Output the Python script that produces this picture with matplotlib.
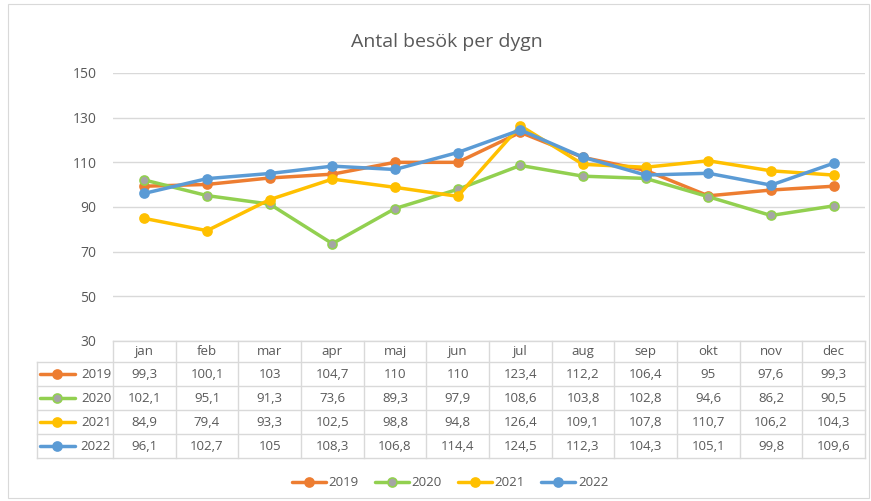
import matplotlib.pyplot as plt
from matplotlib.lines import Line2D
from matplotlib.patches import Rectangle
import numpy as np

plt.rcParams['font.family'] = ['Open Sans', 'DejaVu Sans']

months = ['jan', 'feb', 'mar', 'apr', 'maj', 'jun', 'jul', 'aug', 'sep', 'okt', 'nov', 'dec']
years = ['2019', '2020', '2021', '2022']
v2019 = [99.3, 100.1, 103, 104.7, 110, 110, 123.4, 112.2, 106.4, 95, 97.6, 99.3]
v2020 = [102.1, 95.1, 91.3, 73.6, 89.3, 97.9, 108.6, 103.8, 102.8, 94.6, 86.2, 90.5]
v2021 = [84.9, 79.4, 93.3, 102.5, 98.8, 94.8, 126.4, 109.1, 107.8, 110.7, 106.2, 104.3]
v2022 = [96.1, 102.7, 105, 108.3, 106.8, 114.4, 124.5, 112.3, 104.3, 105.1, 99.8, 109.6]
series = [v2019, v2020, v2021, v2022]

line_cols = ['#ED7D31', '#92D050', '#FFC000', '#5B9BD5']
mark_cols = ['#ED7D31', '#A5A5A5', '#FFC000', '#5B9BD5']
txt = '#595959'
grid = '#D9D9D9'

W, H = 871, 501
fig = plt.figure(figsize=(W / 100, H / 100), dpi=100)
fig.patches.append(Rectangle((8 / W, 3 / H), 861 / W, 494 / H, transform=fig.transFigure,
                             fill=False, edgecolor=grid, lw=0.8))

top_px, bot_px, left_px, right_px = 73, 341, 113, 865
ax = fig.add_axes([left_px / W, 1 - bot_px / H, (right_px - left_px) / W, (bot_px - top_px) / H])
ax_h = bot_px - top_px

x = np.arange(12) + 0.5
for vals, lc, mc, yr in zip(series, line_cols, mark_cols, years):
    ax.plot(x, vals, color=lc, lw=2.5, marker='o', ms=6.5, mfc=mc, mec=lc, mew=1.2, label=yr,
            solid_capstyle='round', zorder=3)

ax.set_xlim(0, 12)
ax.set_ylim(30, 150)
ax.set_yticks(range(30, 151, 20))
ax.yaxis.grid(True, color=grid, lw=1)
ax.set_axisbelow(True)
ax.set_xticks([])
ax.tick_params(axis='y', length=0, pad=12, labelsize=10, labelcolor=txt)
for s in ax.spines.values():
    s.set_visible(False)

fig.text(447 / W, 1 - 42 / H, 'Antal besök per dygn', fontsize=14, color=txt, ha='center', va='center')

# data table below the plot
tr = ax.get_xaxis_transform()
row_px = [341, 362, 386, 410, 434, 458]
row_y = [(bot_px - p) / ax_h for p in row_px]
label_x0 = -76 / ((right_px - left_px) / 12)

# horizontal lines
ax.plot([0, 12], [row_y[0]] * 2, transform=tr, color=grid, lw=1, clip_on=False)
for yy in row_y[1:]:
    ax.plot([label_x0, 12], [yy, yy], transform=tr, color=grid, lw=1, clip_on=False)
# vertical lines
for i in range(13):
    ax.plot([i, i], [row_y[0], row_y[-1]], transform=tr, color=grid, lw=1, clip_on=False)
ax.plot([label_x0, label_x0], [row_y[1], row_y[-1]], transform=tr, color=grid, lw=1, clip_on=False)

def fmt(v):
    return f'{v:g}'.replace('.', ',')

for i, m in enumerate(months):
    ax.text(i + 0.5, (row_y[0] + row_y[1]) / 2, m, transform=tr, ha='center', va='center',
            fontsize=9.5, color=txt)
for r, (vals, lc, mc, yr) in enumerate(zip(series, line_cols, mark_cols, years)):
    yc = (row_y[r + 1] + row_y[r + 2]) / 2
    for i, v in enumerate(vals):
        ax.text(i + 0.5, yc, fmt(v), transform=tr, ha='center', va='center', fontsize=9.5, color=txt)
    lx = label_x0 + 0.05
    ax.add_line(Line2D([lx, lx + 0.55], [yc, yc], transform=tr, color=lc, lw=2.5, clip_on=False,
                       solid_capstyle='round'))
    ax.add_line(Line2D([lx + 0.275], [yc], transform=tr, marker='o', ms=6.5, mfc=mc, mec=lc,
                       mew=1.2, clip_on=False))
    ax.text(-0.03, yc, yr, transform=tr, ha='right', va='center', fontsize=9.5, color=txt)

leg = fig.legend(loc='center', bbox_to_anchor=(450 / W, 1 - 483 / H), ncol=4, frameon=False,
                 fontsize=9.5, labelcolor=txt, handlelength=2.6, columnspacing=1.2, handletextpad=0.2)

fig.savefig('out.png', dpi=100)
